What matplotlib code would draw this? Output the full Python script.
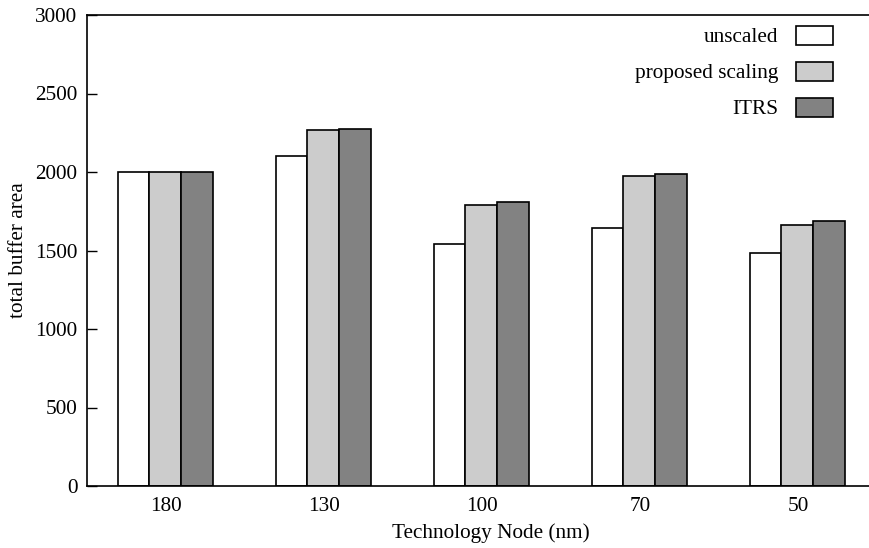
import numpy as np
import matplotlib
matplotlib.use('Agg')
import matplotlib.pyplot as plt

# Data
nodes = ['180', '130', '100', '70', '50']
unscaled = [2000, 2105, 1543, 1645, 1486]
proposed = [2000, 2268, 1790, 1972, 1665]
itrs = [2000, 2276, 1810, 1990, 1690]
series_labels = ['unscaled', 'proposed scaling', 'ITRS']
series_colors = ['#ffffff', '#cccccc', '#828282']


def main():
    plt.rcParams['font.family'] = ['Liberation Serif', 'DejaVu Serif']
    plt.rcParams['font.size'] = 15.3

    fig = plt.figure(figsize=(8.69, 5.48), dpi=100)
    ax = fig.add_axes([87 / 869, 1 - 486 / 548, (877 - 87) / 869, 471 / 548])

    x = np.arange(len(nodes))
    width = 0.2
    handles = []
    for i, (vals, color, label) in enumerate(zip([unscaled, proposed, itrs], series_colors, series_labels)):
        h = ax.bar(x + (i - 1) * width - 0.005, vals, width, color=color, edgecolor='black',
                   linewidth=1.2, label=label, zorder=2)
        handles.append(h)

    ax.set_xlim(-0.5, 4.5)
    ax.set_ylim(0, 3000)
    ax.set_xticks(x)
    ax.set_xticklabels(nodes)
    ax.set_yticks(np.arange(0, 3001, 500))
    ax.tick_params(axis='y', direction='in', length=7, width=1.0, pad=7)
    ax.tick_params(axis='x', length=0, pad=8)
    for s in ax.spines.values():
        s.set_linewidth(1.2)

    ax.set_xlabel('Technology Node (nm)')
    ax.set_ylabel('total buffer area')
    ax.xaxis.set_label_coords((491 - 87) / 790, -37 / 471)
    ax.yaxis.set_label_coords(-(87 - 28) / 790, 0.5)

    ax.legend(handles=handles, loc='upper right', bbox_to_anchor=(0.9575, 1.0),
              frameon=False, markerfirst=False, handlelength=1.73, handleheight=1.0,
              labelspacing=0.67, handletextpad=0.82, borderpad=0.5, borderaxespad=0.0)

    fig.savefig('out.png', dpi=100)


if __name__ == '__main__':
    main()
